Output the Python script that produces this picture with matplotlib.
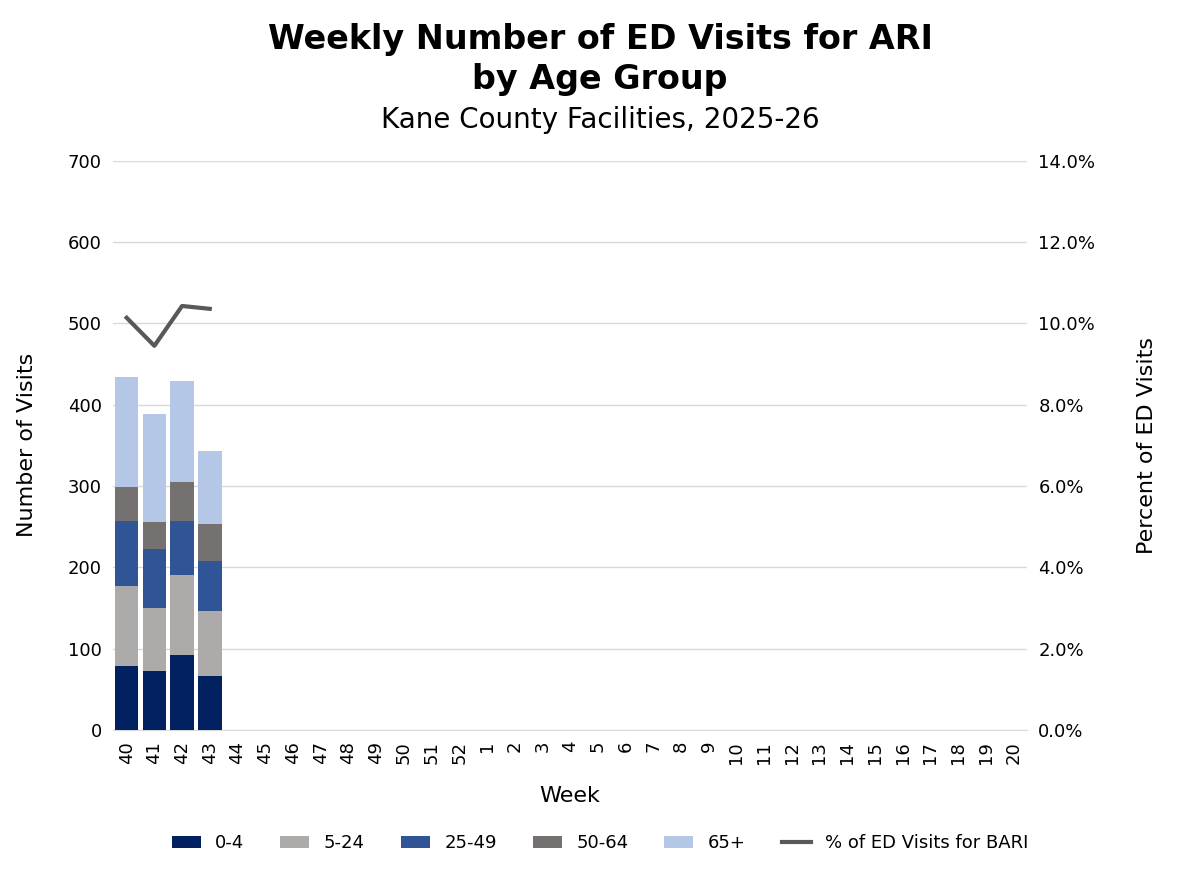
import matplotlib.pyplot as plt
import numpy as np

weeks = [str(w) for w in list(range(40, 53)) + list(range(1, 21))]
age_groups = ['0-4', '5-24', '25-49', '50-64', '65+']
colors = ['#002060', '#ADAAAA', '#2F5597', '#767171', '#B4C7E7']
visits = {
    '0-4':   [79, 73, 92, 66],
    '5-24':  [98, 77, 99, 80],
    '25-49': [80, 73, 66, 62],
    '50-64': [42, 33, 48, 45],
    '65+':   [135, 133, 124, 90],
}
pct_bari = [10.14, 9.45, 10.43, 10.36]

fig = plt.figure(figsize=(12, 8.72), dpi=100)
ax = fig.add_axes([0.094, 0.163, 0.762, 0.6525])
ax2 = ax.twinx()

x = np.arange(len(weeks))
bottom = np.zeros(len(visits['0-4']))
handles = []
for grp, col in zip(age_groups, colors):
    vals = np.array(visits[grp])
    h = ax.bar(x[:len(vals)], vals, 0.85, bottom=bottom, color=col, label=grp, zorder=3)
    handles.append(h)
    bottom += vals

line, = ax2.plot(x[:len(pct_bari)], pct_bari, color='#595959', lw=3, label='% of ED Visits for BARI')
handles.append(line)

ax.set_xlim(-0.5, len(weeks) - 0.5)
ax.set_ylim(0, 700)
ax.set_yticks(range(0, 701, 100))
ax2.set_ylim(0, 14)
ax2.set_yticks(range(0, 15, 2))
ax2.set_yticklabels([f'{v:.1f}%' for v in range(0, 15, 2)])
ax.set_xticks(x)
ax.set_xticklabels(weeks, rotation=90)
ax.grid(axis='y', color='#D9D9D9', lw=1, zorder=0)
for a in (ax, ax2):
    for s in a.spines.values():
        s.set_visible(False)
    a.tick_params(length=0, labelsize=13, colors='#000000', pad=8)
ax.spines['bottom'].set_visible(True)
ax.spines['bottom'].set_color('#D9D9D9')

ax.set_xlabel('Week', fontsize=16, labelpad=16)
ax.set_ylabel('Number of Visits', fontsize=16, labelpad=22)
ax2.set_ylabel('Percent of ED Visits', fontsize=16, labelpad=30)

fig.text(0.5, 0.065, '', ha='center')
fig.text(0.5, 0.932, 'Weekly Number of ED Visits for ARI\nby Age Group', ha='center', va='center',
         fontsize=24, fontweight='bold', linespacing=1.25)
fig.text(0.5, 0.862, 'Kane County Facilities, 2025-26', ha='center', va='center', fontsize=20)

fig.legend(handles=handles, labels=age_groups + ['% of ED Visits for BARI'], loc='center',
           bbox_to_anchor=(0.5, 0.033), ncol=6, frameon=False, fontsize=13,
           handlelength=1.6, columnspacing=2.0)

fig.savefig('out.png', dpi=100)
